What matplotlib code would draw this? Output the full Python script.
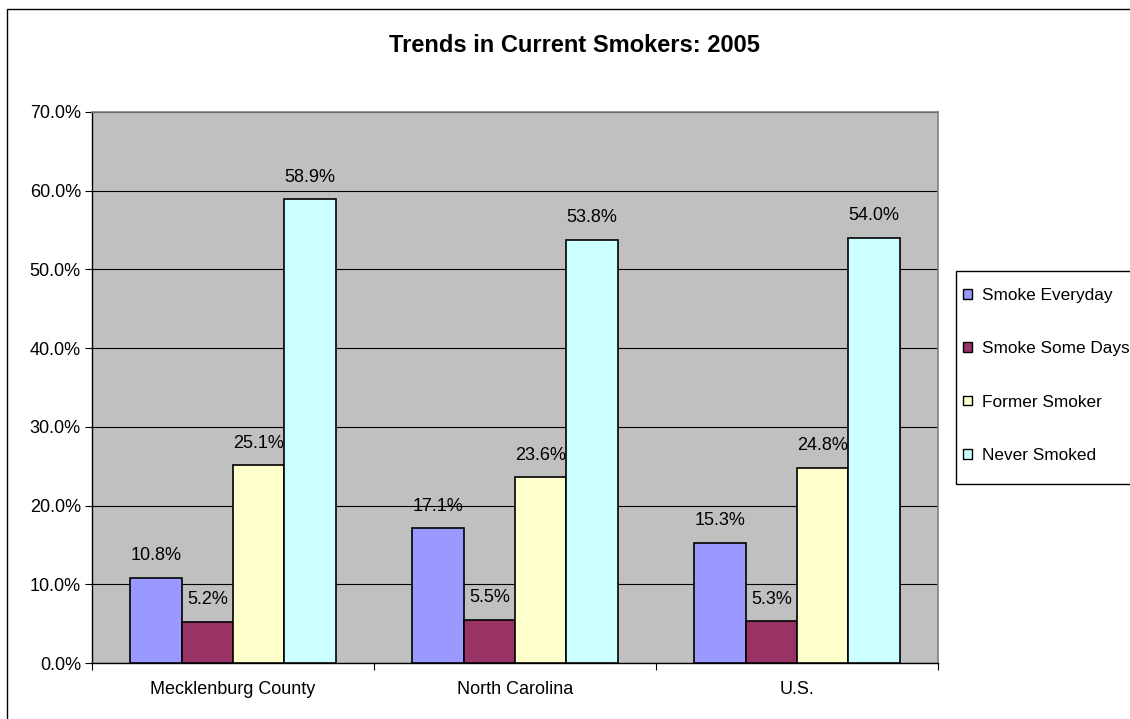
import matplotlib
matplotlib.use("Agg")
import matplotlib.pyplot as plt
from matplotlib.patches import Rectangle
import numpy as np

categories = ["Mecklenburg County", "North Carolina", "U.S."]
series_names = ["Smoke Everyday", "Smoke Some Days", "Former Smoker", "Never Smoked"]
smoke_everyday = [10.8, 17.1, 15.3]
smoke_some_days = [5.2, 5.5, 5.3]
former_smoker = [25.1, 23.6, 24.8]
never_smoked = [58.9, 53.8, 54.0]
colors = ["#9999FF", "#993366", "#FFFFCC", "#CCFFFF"]
yticks = [0, 10, 20, 30, 40, 50, 60, 70]

plt.rcParams['font.family'] = ['Liberation Sans', 'DejaVu Sans']

W, H = 1130, 719
fig = plt.figure(figsize=(W / 100, H / 100), dpi=100)

# outer chart border
fig.patches.append(Rectangle((7 / W, -0.1), 1.2, 1 - 9 / H + 0.1, transform=fig.transFigure,
                             fill=False, edgecolor="#000000", linewidth=1.0))
# legend frame
fig.patches.append(Rectangle((956 / W, 1 - 484 / H), 0.2, (484 - 271) / H,
                             transform=fig.transFigure, fill=True, facecolor="white",
                             edgecolor="#000000", linewidth=1.0, zorder=2))

ax = fig.add_axes([92 / W, 1 - 663 / H, (938 - 92) / W, (663 - 112) / H])
ax.set_facecolor("#C0C0C0")

all_series = [smoke_everyday, smoke_some_days, former_smoker, never_smoked]
n = len(series_names)
bw = 1 / 5.476
x = np.arange(len(categories))
for i, (vals, name, c) in enumerate(zip(all_series, series_names, colors)):
    pos = x + (i - (n - 1) / 2) * bw
    ax.bar(pos, vals, width=bw, color=c, edgecolor="black", linewidth=1.2,
           label=name, zorder=3)
    for xp, v in zip(pos, vals):
        ax.annotate(f"{v:.1f}%", (xp, v), xytext=(0, 16), textcoords="offset points",
                    ha="center", va="center", fontsize=13, color="#000000")

ax.set_xlim(-0.5, len(categories) - 0.5)
ax.set_ylim(0, 70)
ax.set_yticks(yticks)
ax.set_yticklabels([f"{t:.1f}%" for t in yticks], fontsize=13)
ax.yaxis.grid(True, color="#000000", linewidth=0.8, zorder=1)
ax.set_axisbelow(True)

ax.set_xticks(np.arange(-0.5, len(categories), 1.0))
ax.set_xticklabels([])
ax.set_xticks(x, minor=True)
ax.set_xticklabels(categories, minor=True, fontsize=13)
ax.tick_params(axis="x", which="minor", length=0, pad=13)
ax.tick_params(axis="x", which="major", length=5, direction="out", color="black")
ax.tick_params(axis="y", length=5, direction="out", color="black", pad=3)

for s in ["left", "bottom"]:
    ax.spines[s].set_color("black")
    ax.spines[s].set_linewidth(1.0)
for s in ["top", "right"]:
    ax.spines[s].set_color("#808080")
    ax.spines[s].set_linewidth(1.2)

fig.text(574 / W, 1 - 45 / H, "Trends in Current Smokers: 2005", ha="center", va="center",
         fontsize=17, fontweight="bold")

leg = fig.legend(loc="center left", bbox_to_anchor=(963 / W, 1 - 375.5 / H), frameon=False,
                 fontsize=12.4, handlelength=0.5, handleheight=0.5, handletextpad=0.6,
                 labelspacing=2.22, borderpad=0, borderaxespad=0)
leg.set_zorder(3)
for h in leg.legend_handles:
    h.set_linewidth(1.0)

fig.savefig("out.png", dpi=100)
